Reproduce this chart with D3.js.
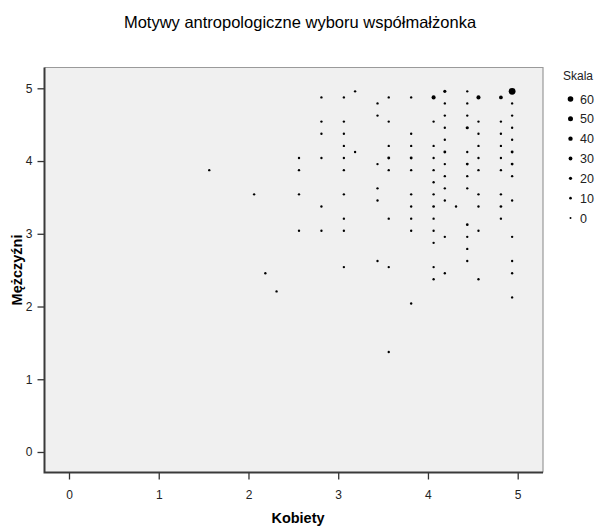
<!DOCTYPE html>
<html>
<head>
<meta charset="utf-8">
<script src="https://cdn.jsdelivr.net/npm/d3@7"></script>
<style>
  html, body { margin: 0; padding: 0; background: #ffffff; }
  svg { display: block; font-family: "Liberation Sans", Arial, sans-serif; }
</style>
</head>
<body>
<svg id="chart" width="600" height="527"></svg>
<script>
// ---- Data ----
const chartTitle = "Motywy antropologiczne wyboru współmałżonka";
const xLabel = "Kobiety";
const yLabel = "Mężczyźni";
const legendTitle = "Skala";

const xTicks = [0, 1, 2, 3, 4, 5];
const yTicks = [0, 1, 2, 3, 4, 5];
const legendValues = [60, 50, 40, 30, 20, 10, 0];

const kobiety = [
  1.563, 2.063, 2.188, 2.313,
  2.563, 2.563, 2.563, 2.563,
  2.813, 2.813, 2.813, 2.813, 2.813, 2.813,
  3.063, 3.063, 3.063, 3.063, 3.063, 3.063, 3.063, 3.063, 3.063, 3.063,
  3.188, 3.188,
  3.438, 3.438, 3.438, 3.438, 3.438, 3.438,
  3.563, 3.563, 3.563, 3.563, 3.563, 3.563, 3.563, 3.563,
  3.813, 3.813, 3.813, 3.813, 3.813, 3.813, 3.813, 3.813, 3.813, 3.813,
  4.063, 4.063, 4.063, 4.063, 4.063, 4.063, 4.063, 4.063, 4.063, 4.063, 4.063, 4.063, 4.063,
  4.188, 4.188, 4.188, 4.188, 4.188, 4.188, 4.188, 4.188, 4.188, 4.188, 4.188, 4.188,
  4.313,
  4.438, 4.438, 4.438, 4.438, 4.438, 4.438, 4.438, 4.438, 4.438, 4.438, 4.438, 4.438,
  4.563, 4.563, 4.563, 4.563, 4.563, 4.563, 4.563, 4.563, 4.563, 4.563,
  4.813, 4.813, 4.813, 4.813, 4.813, 4.813, 4.813, 4.813, 4.813,
  4.938, 4.938, 4.938, 4.938, 4.938, 4.938, 4.938, 4.938, 4.938, 4.938, 4.938, 4.938, 4.938
];

const mezczyzni = [
  3.875, 3.542, 2.458, 2.208,
  4.042, 3.875, 3.542, 3.042,
  4.875, 4.542, 4.375, 4.042, 3.375, 3.042,
  4.875, 4.542, 4.375, 4.208, 4.042, 3.875, 3.542, 3.208, 3.042, 2.542,
  4.958, 4.125,
  4.792, 4.625, 3.958, 3.625, 3.458, 2.625,
  4.875, 4.542, 4.208, 4.042, 3.875, 3.208, 2.542, 1.375,
  4.875, 4.375, 4.208, 4.042, 3.875, 3.542, 3.375, 3.208, 3.042, 2.042,
  4.875, 4.542, 4.208, 4.042, 3.875, 3.708, 3.542, 3.375, 3.208, 3.042, 2.875, 2.542, 2.375,
  4.958, 4.792, 4.625, 4.458, 4.292, 4.125, 3.958, 3.792, 3.625, 3.458, 2.958, 2.458,
  3.375,
  4.958, 4.792, 4.625, 4.458, 4.125, 3.958, 3.792, 3.625, 3.125, 2.958, 2.792, 2.625,
  4.875, 4.542, 4.375, 4.208, 4.042, 3.875, 3.542, 3.375, 3.042, 2.375,
  4.875, 4.542, 4.375, 4.208, 4.042, 3.875, 3.542, 3.375, 3.208,
  4.958, 4.792, 4.625, 4.458, 4.292, 4.125, 3.958, 3.792, 3.458, 2.958, 2.625, 2.458, 2.125
];

const skala = [
  6, 6, 6, 6,
  6, 6, 6, 6,
  6, 6, 6, 6, 6, 6,
  6, 6, 6, 6, 6, 6, 6, 6, 6, 6,
  6, 6,
  6, 6, 6, 6, 6, 6,
  6, 6, 6, 15, 6, 6, 6, 6,
  6, 6, 6, 15, 6, 6, 6, 6, 6, 6,
  35, 6, 6, 6, 6, 6, 6, 12, 6, 6, 6, 6, 6,
  20, 6, 6, 6, 6, 15, 6, 6, 6, 6, 6, 6,
  6,
  6, 6, 6, 20, 6, 15, 6, 6, 12, 6, 6, 6,
  35, 6, 6, 6, 6, 6, 6, 6, 6, 6,
  30, 6, 6, 6, 6, 6, 6, 12, 6,
  80, 6, 6, 6, 6, 15, 15, 6, 6, 6, 6, 6, 6
];

// ---- Layout ----
const plot = { left: 44.5, right: 543, top: 67.5, bottom: 472.5 };

const svg = d3.select("#chart");

const x = d3.scaleLinear().domain([-0.273, 5.282]).range([plot.left, plot.right]);
const y = d3.scaleLinear().domain([-0.282, 5.286]).range([plot.bottom, plot.top]);
const r = d3.scaleLinear().domain([0, 60]).range([1.0, 2.8]);

// Title
svg.append("text")
  .attr("x", 300).attr("y", 28)
  .attr("text-anchor", "middle")
  .attr("font-size", 16.5)
  .attr("fill", "#000")
  .text(chartTitle);

// Plot background
svg.append("rect")
  .attr("x", plot.left).attr("y", plot.top)
  .attr("width", plot.right - plot.left).attr("height", plot.bottom - plot.top)
  .attr("fill", "#f0f0f0");

// Top/right frame (light)
svg.append("path")
  .attr("d", `M${plot.left},${plot.top}H${plot.right}V${plot.bottom}`)
  .attr("fill", "none").attr("stroke", "#9a9a9a").attr("stroke-width", 1.2);

// Axes
const fmt = d3.format("d");
const xAxis = d3.axisBottom(x).tickValues(xTicks).tickFormat(fmt).tickSize(7).tickPadding(11).tickSizeOuter(0);
const yAxis = d3.axisLeft(y).tickValues(yTicks).tickFormat(fmt).tickSize(7).tickPadding(5).tickSizeOuter(0);

const gx = svg.append("g").attr("transform", `translate(0,${plot.bottom})`).call(xAxis);
const gy = svg.append("g").attr("transform", `translate(${plot.left},0)`).call(yAxis);

[gx, gy].forEach(g => {
  g.select(".domain").remove();
  g.selectAll(".tick line").attr("stroke", "#333").attr("stroke-width", 1.3);
  g.selectAll(".tick text").attr("font-size", 12).attr("fill", "#222")
    .attr("font-family", "'Liberation Sans', Arial, sans-serif");
});

// Left/bottom frame (dark)
svg.append("path")
  .attr("d", `M${plot.left},${plot.top}V${plot.bottom}H${plot.right}`)
  .attr("fill", "none").attr("stroke", "#3a3a3a").attr("stroke-width", 2);

// Points
const pts = kobiety.map((k, i) => ({ k, m: mezczyzni[i], s: skala[i] }));
svg.append("g").selectAll("circle")
  .data(pts)
  .join("circle")
  .attr("cx", d => x(d.k))
  .attr("cy", d => y(d.m))
  .attr("r", d => r(d.s))
  .attr("fill", "#000");

// Axis titles
svg.append("text")
  .attr("x", 298).attr("y", 523)
  .attr("text-anchor", "middle")
  .attr("font-size", 14.5).attr("font-weight", "bold").attr("fill", "#000")
  .text(xLabel);

svg.append("text")
  .attr("transform", "translate(22,270) rotate(-90)")
  .attr("text-anchor", "middle")
  .attr("font-size", 14.5).attr("font-weight", "bold").attr("fill", "#000")
  .text(yLabel);

// Legend
const lg = svg.append("g");
lg.append("text")
  .attr("x", 563).attr("y", 80)
  .attr("font-size", 12).attr("fill", "#222")
  .text(legendTitle);

const ly = d3.scalePoint().domain(legendValues).range([99, 218]);
const items = lg.selectAll("g.item").data(legendValues).join("g").attr("class", "item")
  .attr("transform", d => `translate(0,${ly(d)})`);
items.append("circle").attr("cx", 570.5).attr("cy", 0).attr("r", d => r(d)).attr("fill", "#000");
items.append("text").attr("x", 580).attr("y", 4.5)
  .attr("font-size", 12.5).attr("fill", "#222")
  .text(d => d);
</script>
</body>
</html>
